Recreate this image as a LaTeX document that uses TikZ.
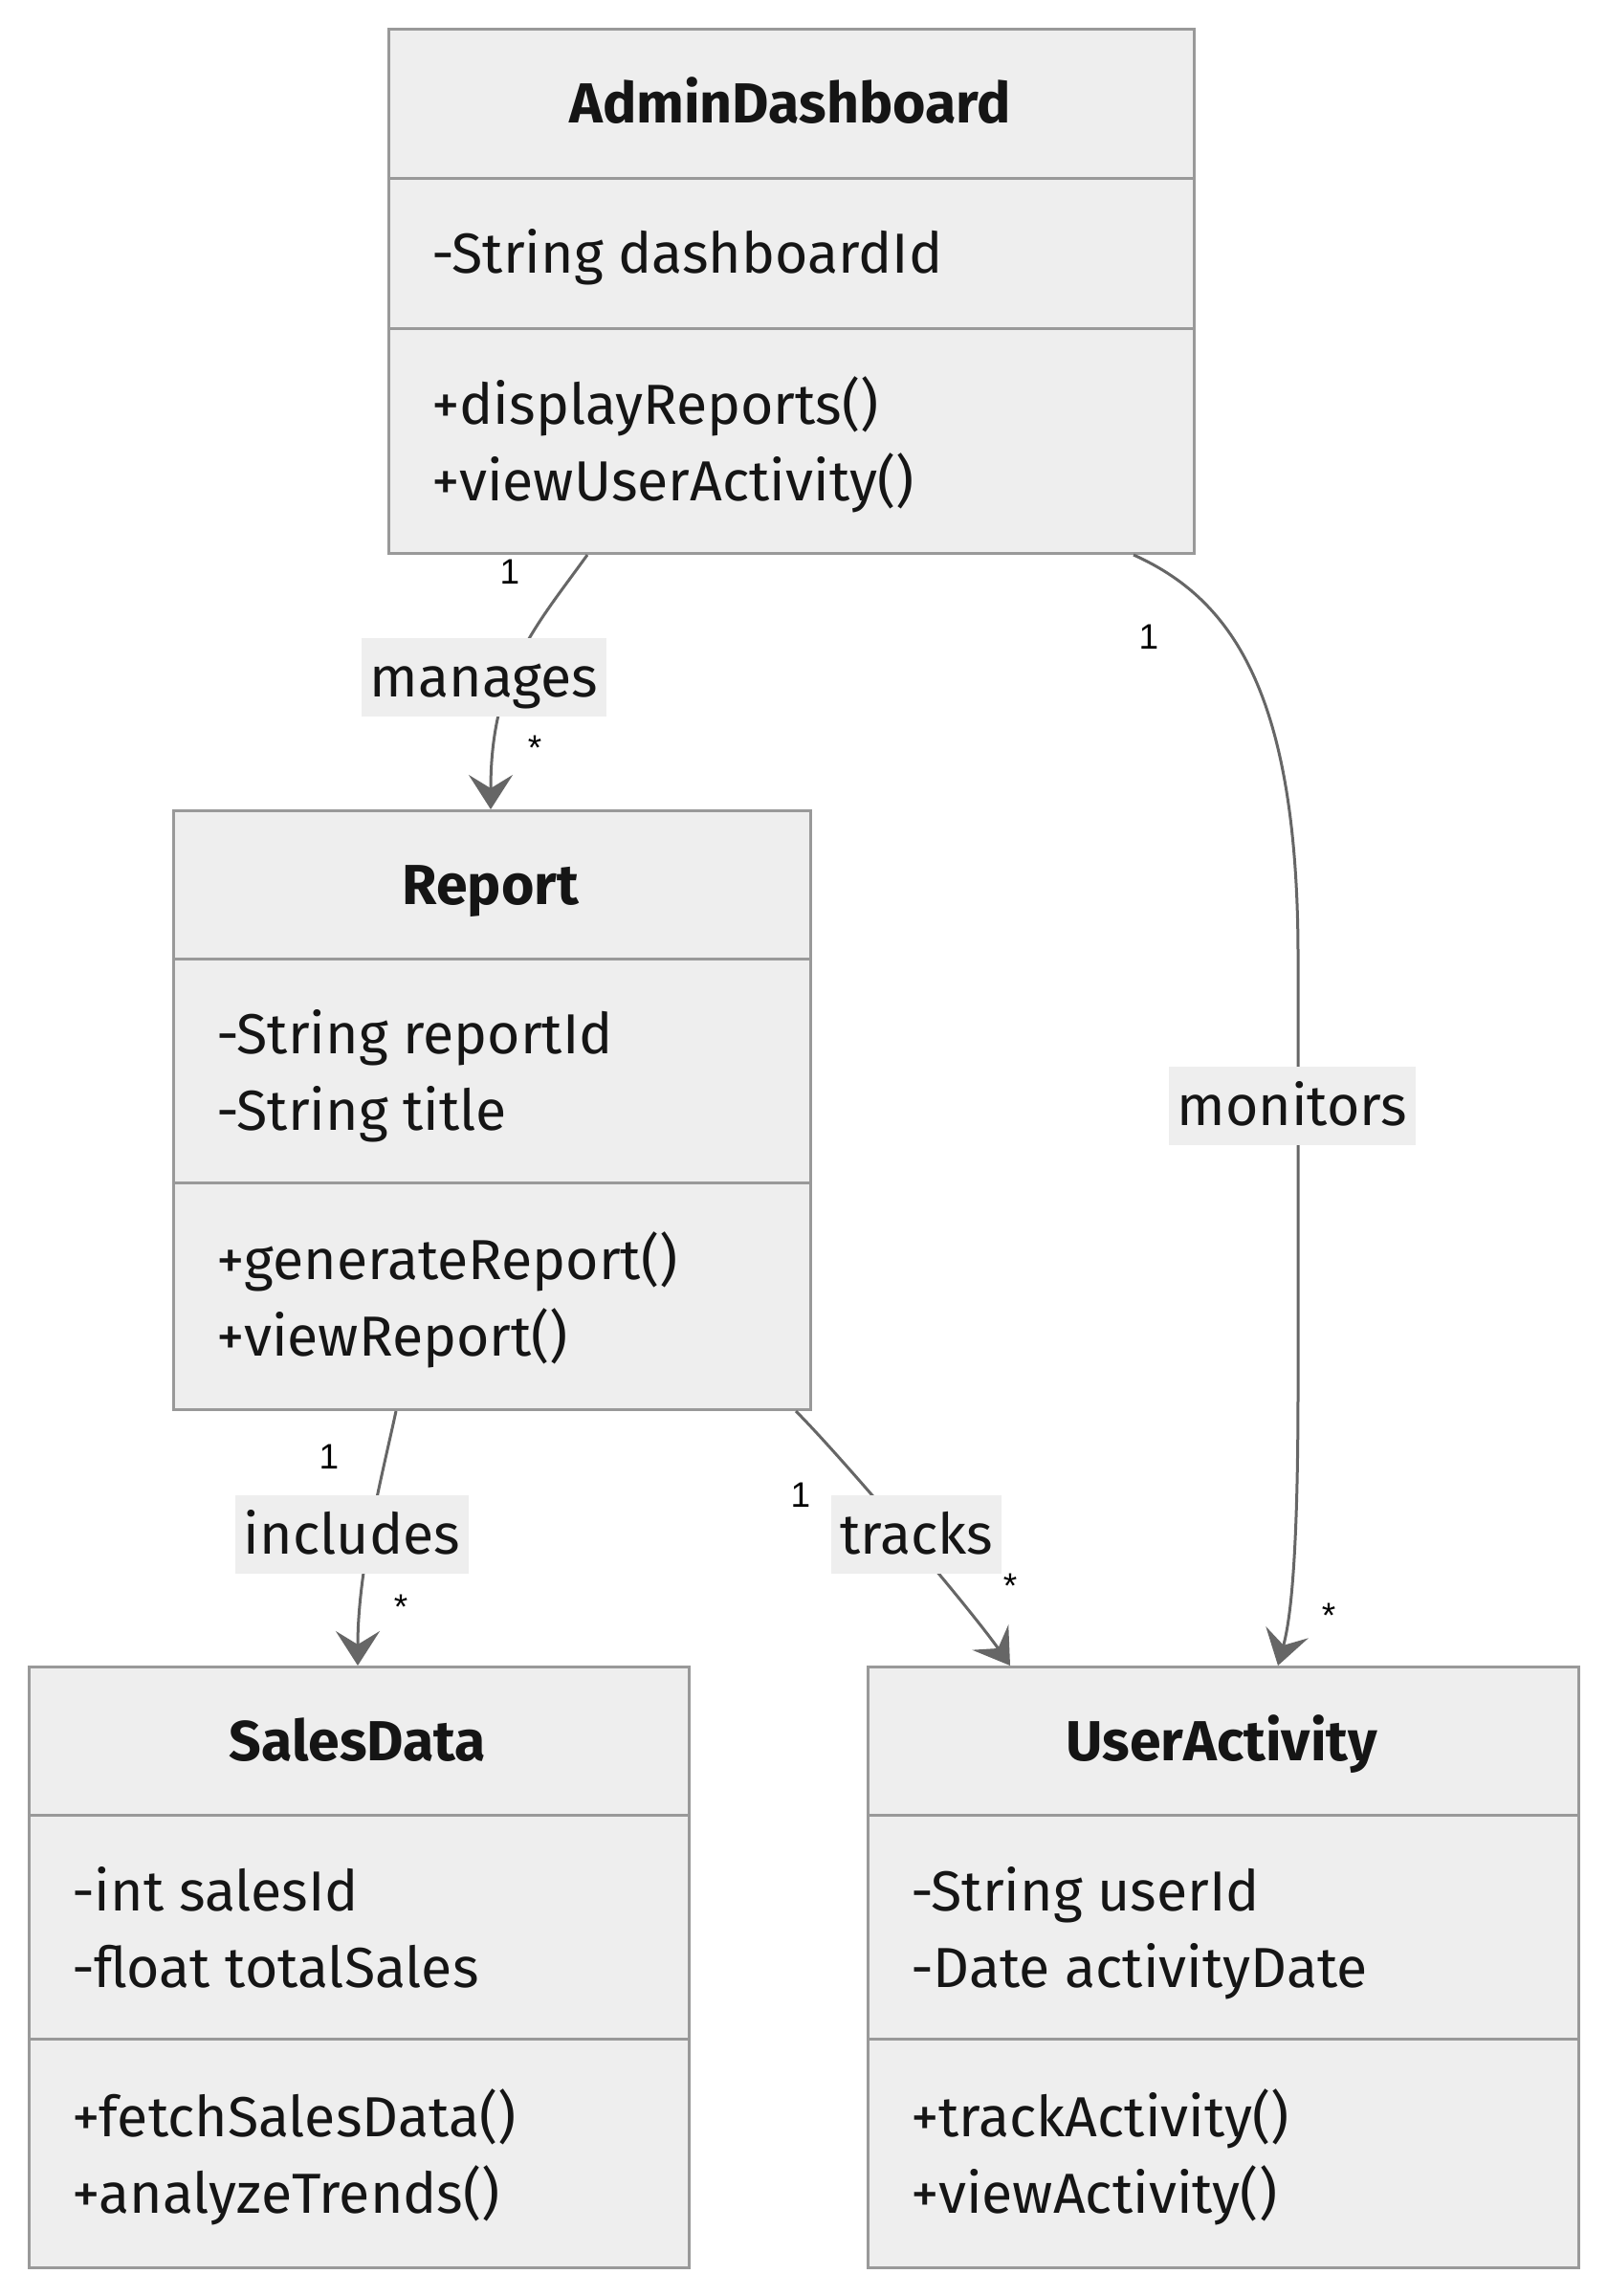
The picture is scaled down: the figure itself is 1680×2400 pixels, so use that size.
\documentclass[tikz,border=0pt]{standalone}
\usepackage{fontspec}
\setmainfont{Fira Sans}
\newfontfamily\multfont{Liberation Sans}
\usetikzlibrary{arrows.meta,calc}
\definecolor{boxfill}{HTML}{EEEEEE}
\definecolor{boxline}{HTML}{999999}
\definecolor{relline}{HTML}{666666}
\definecolor{txt}{HTML}{151515}
\begin{document}
\begin{tikzpicture}[x=1pt,y=-1pt,
  umlbox/.style={draw=boxline, line width=3pt, fill=boxfill, inner sep=0pt, anchor=north west},
  divider/.style={draw=boxline, line width=3pt},
  ctitle/.style={font=\fontsize{59}{70}\selectfont\bfseries, text=txt, anchor=base, inner sep=0pt},
  member/.style={font=\fontsize{59}{70}\selectfont, text=txt, anchor=base west, inner sep=0pt},
  rel/.style={draw=relline, line width=3pt, -{Stealth[length=36pt,width=46pt,inset=14pt]}},
  rellabel/.style={fill=boxfill, font=\fontsize{59}{70}\selectfont, text=txt, text height=49pt, text depth=8pt, inner xsep=9pt, inner ysep=12.5pt},
  mult/.style={font=\multfont\fontsize{37}{44}\selectfont, text=black, inner sep=0pt}]
\useasboundingbox[fill=white] (0,0) rectangle (1680,2400);

% AdminDashboard
\node[umlbox, minimum width=842pt, minimum height=548pt] (AD) at (405,29) {};
\draw[divider] ($(AD.north west)+(0,158)$) -- ($(AD.north east)+(0,158)$);
\draw[divider] ($(AD.north west)+(0,314)$) -- ($(AD.north east)+(0,314)$);
\node[ctitle] (ADt) at (826,129) {AdminDashboard};
\node[member] (ADa1) at (451,286) {-String dashboardId};
\node[member] (ADm1) at (451,443) {+displayReports()};
\node[member] (ADm2) at (451,523) {+viewUserActivity()};

% Report
\node[umlbox, minimum width=666pt, minimum height=626pt] (R) at (180,846) {};
\draw[divider] ($(R.north west)+(0,156)$) -- ($(R.north east)+(0,156)$);
\draw[divider] ($(R.north west)+(0,390)$) -- ($(R.north east)+(0,390)$);
\node[ctitle] (Rt) at (513,945) {Report};
\node[member] (Ra1) at (226,1101) {-String reportId};
\node[member] (Ra2) at (226,1181) {-String title};
\node[member] (Rm1) at (226,1337) {+generateReport()};
\node[member] (Rm2) at (226,1417) {+viewReport()};

% SalesData
\node[umlbox, minimum width=690pt, minimum height=628pt] (SD) at (29,1741) {};
\draw[divider] ($(SD.north west)+(0,156)$) -- ($(SD.north east)+(0,156)$);
\draw[divider] ($(SD.north west)+(0,390)$) -- ($(SD.north east)+(0,390)$);
\node[ctitle] (SDt) at (374,1840) {SalesData};
\node[member] (SDa1) at (75,1997) {-int salesId};
\node[member] (SDa2) at (75,2077) {-float totalSales};
\node[member] (SDm1) at (75,2233) {+fetchSalesData()};
\node[member] (SDm2) at (75,2313) {+analyzeTrends()};

% UserActivity
\node[umlbox, minimum width=743pt, minimum height=628pt] (UA) at (906,1741) {};
\draw[divider] ($(UA.north west)+(0,156)$) -- ($(UA.north east)+(0,156)$);
\draw[divider] ($(UA.north west)+(0,390)$) -- ($(UA.north east)+(0,390)$);
\node[ctitle] (UAt) at (1277,1840) {UserActivity};
\node[member] (UAa1) at (952,1997) {-String userId};
\node[member] (UAa2) at (952,2077) {-Date activityDate};
\node[member] (UAm1) at (952,2233) {+trackActivity()};
\node[member] (UAm2) at (952,2313) {+viewActivity()};

% relations
\draw[rel] ($(AD.south west)+(209,0)$) .. controls (560,655) and (513,705) .. ($(R.north west)+(333,0)$);
\draw[rel] ($(AD.south west)+(780,0)$) .. controls (1285,625) and (1357,720) .. (1357,1000)
  -- (1357,1450) .. controls (1357,1620) and (1350,1690) .. ($(UA.north west)+(430,0)$);
\draw[rel] ($(R.south west)+(234,0)$) .. controls (400,1540) and (374,1640) .. ($(SD.north west)+(345,0)$);
\draw[rel] ($(R.south west)+(652,0)$) .. controls (880,1523) and (1014,1681) .. ($(UA.north west)+(150,0)$);

% labels
\node[rellabel] (Lmanages) at (506,708) {manages};
\node[rellabel] (Lmonitors) at (1351,1156) {monitors};
\node[rellabel] (Lincludes) at (368,1604) {includes};
\node[rellabel] (Ltracks) at (958,1604) {tracks};

% multiplicities
\node[mult] (m1) at (533,598) {1};
\node[mult] (m2) at (559,782) {*};
\node[mult] (m3) at (1201,666) {1};
\node[mult] (m4) at (1389,1689) {*};
\node[mult] (m5) at (344,1523) {1};
\node[mult] (m6) at (419,1680) {*};
\node[mult] (m7) at (837,1563) {1};
\node[mult] (m8) at (1056,1658) {*};
\end{tikzpicture}
\end{document}
